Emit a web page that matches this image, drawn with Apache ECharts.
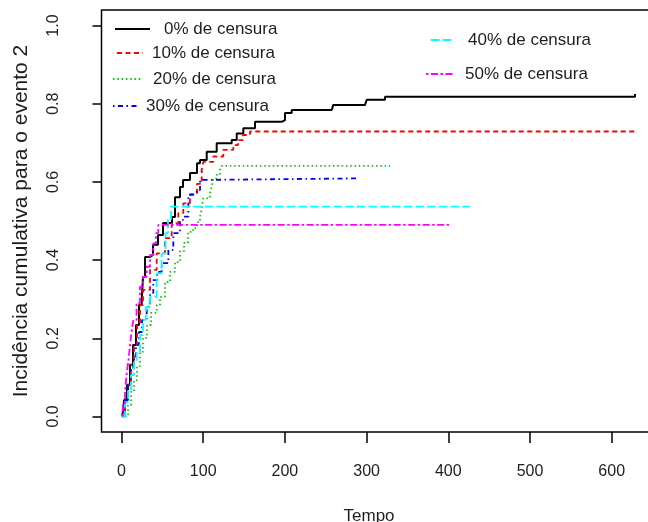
<!DOCTYPE html>
<html>
<head>
<meta charset="utf-8">
<script src="https://cdn.jsdelivr.net/npm/echarts@6/dist/echarts.min.js"></script>
<style>
  html, body { margin: 0; padding: 0; background: #fff; }
  #chart { width: 648px; height: 522px; }
</style>
</head>
<body>
<div id="chart"></div>
<script>
// Cumulative incidence estimates (step functions) for event 2, per censoring level
const seriesNames = ['0% de censura', '10% de censura', '20% de censura',
                     '30% de censura', '40% de censura', '50% de censura'];

const cif0 = [[1,0],[3.1,0.042],[6.7,0.081],[10.4,0.132],[14.1,0.183],[17.7,0.234],[21.4,0.285],
  [24.7,0.298],[26.3,0.357],[28.8,0.408],[34.9,0.413],[38.6,0.439],[44.7,0.464],[50.8,0.495],
  [61.8,0.510],[65.5,0.561],[71.6,0.587],[75.3,0.605],[83.8,0.623],[92.4,0.648],[96.1,0.656],
  [104.3,0.677],[116.5,0.699],[134.9,0.707],[141,0.724],[149.1,0.737],[163.4,0.754],[196.5,0.758],
  [200.1,0.776],[208.3,0.784],[257.3,0.788],[259.2,0.797],[298,0.801],[300.1,0.810],[322.5,0.818],
  [628.5,0.825]];

const cif10 = [[1,0],[4.3,0.042],[8.0,0.081],[11.6,0.132],[15.3,0.183],[19.0,0.234],[22.6,0.285],
  [26.3,0.324],[34.9,0.375],[43.1,0.417],[53.2,0.456],[61.4,0.494],[69.5,0.520],[75.6,0.545],
  [83.8,0.569],[92.4,0.595],[98.2,0.631],[100.1,0.651],[112.4,0.665],[124.6,0.682],[136.8,0.694],
  [142.6,0.707],[148.7,0.720],[157.3,0.729],[631,0.729]];

const cif20 = [[4.3,0],[8.0,0.029],[11.6,0.063],[15.3,0.093],[19.0,0.129],[22.6,0.165],[26.3,0.201],
  [31.2,0.234],[36.1,0.265],[43.1,0.285],[47.1,0.306],[53.2,0.344],[59.4,0.370],[65.5,0.395],
  [71.6,0.423],[76.5,0.444],[81.4,0.472],[87.5,0.482],[92.4,0.497],[96.1,0.511],[98.2,0.533],
  [100.1,0.558],[108.3,0.571],[110.4,0.588],[112.4,0.609],[116.5,0.618],[120.6,0.635],[122.6,0.641],
  [328.6,0.641]];

const cif30 = [[1,0],[4.3,0.042],[8.0,0.081],[11.6,0.119],[14.4,0.145],[17.7,0.183],[21.4,0.216],
  [25.1,0.247],[30.8,0.281],[34.9,0.316],[38.9,0.349],[43.5,0.370],[49.2,0.392],[57.3,0.426],
  [63.4,0.469],[71.6,0.503],[75.6,0.511],[81.8,0.567],[87.9,0.571],[92.0,0.579],[96.1,0.605],
  [98.2,0.609],[289.9,0.609]];

const cif40 = [[1,0],[4.3,0.037],[8.0,0.068],[11.6,0.106],[15.3,0.139],[18.6,0.162],[22.6,0.208],
  [26.3,0.247],[30.0,0.280],[34.9,0.306],[43.1,0.366],[49.2,0.417],[53.9,0.469],[56.9,0.503],
  [60.6,0.537],[426.6,0.537]];

const cif50 = [[1,0],[1.8,0.029],[4.3,0.063],[6.4,0.111],[8.6,0.145],[10.4,0.183],[12.2,0.214],
  [14.4,0.247],[18.4,0.290],[22.6,0.332],[26.3,0.357],[30.8,0.383],[34.9,0.413],[38.9,0.443],
  [42.2,0.469],[45.0,0.490],[400.9,0.490]];

const xTicks = [0, 100, 200, 300, 400, 500, 600];
const yTicks = [0, 0.2, 0.4, 0.6, 0.8, 1.0];

const xTitle = 'Tempo';
const yTitle = 'Incidência cumulativa para o evento 2';

// R-style line types: solid, dashed, dotted, dotdash, longdash, twodash
const lineLooks = [
  { color: '#000000', width: 2.0, type: 'solid' },
  { color: '#ff0000', width: 1.8, type: [5, 3.5] },
  { color: '#00cd00', width: 1.8, type: [1.5, 2.8] },
  { color: '#0000ff', width: 1.8, type: [1.5, 3.5, 5, 3.5] },
  { color: '#00ffff', width: 1.8, type: [8.5, 3.2] },
  { color: '#ff00ff', width: 1.8, type: [2.5, 2.5, 7, 2.5] }
];

// legend entries are placed one by one (two loose columns inside the plot box)
const legendSpots = [
  { left: 114, mid: 29,  w: 35, gap: 9 },
  { left: 116, mid: 53,  w: 26, gap: 4 },
  { left: 112, mid: 79,  w: 28, gap: 7 },
  { left: 112, mid: 106, w: 26, gap: 2 },
  { left: 430, mid: 40,  w: 22, gap: 10 },
  { left: 425, mid: 74,  w: 28, gap: 6 }
];

const curves = [cif0, cif10, cif20, cif30, cif40, cif50];
const textColor = '#1e1e1e';
const font = 'Liberation Sans, Arial, Helvetica, sans-serif';

const chart = echarts.init(document.getElementById('chart'), null, { renderer: 'canvas' });

const option = {
  animation: false,
  backgroundColor: '#ffffff',
  grid: {
    left: 101.5, top: 9.9, width: 562.1, height: 422.2,
    outerBoundsMode: 'none', containLabel: false,
    show: true, borderColor: '#000', borderWidth: 1.5, backgroundColor: 'transparent'
  },
  xAxis: {
    type: 'value', min: -24.5, max: 663.5,
    name: xTitle, nameLocation: 'middle', nameGap: 76,
    nameTextStyle: { fontSize: 17, color: textColor, fontFamily: font, padding: [0, 27, 0, 0] },
    axisLine: { show: false, onZero: false },
    splitLine: { show: false },
    axisTick: { show: true, customValues: xTicks, length: 11, lineStyle: { color: '#000', width: 1.5 } },
    axisLabel: { customValues: xTicks, margin: 31, fontSize: 16, color: textColor, fontFamily: font }
  },
  yAxis: {
    type: 'value', min: -0.04, max: 1.04,
    name: yTitle, nameLocation: 'middle', nameGap: 70, nameRotate: 90,
    nameTextStyle: { fontSize: 21, color: textColor, fontFamily: font },
    axisLine: { show: false, onZero: false },
    splitLine: { show: false },
    axisTick: { show: true, customValues: yTicks, length: 9, lineStyle: { color: '#000', width: 1.5 } },
    axisLabel: {
      customValues: yTicks, rotate: 90, margin: 40, fontSize: 16, color: textColor, fontFamily: font,
      formatter: v => v.toFixed(1)
    }
  },
  legend: seriesNames.map((name, i) => ({
    data: [name],
    left: legendSpots[i].left,
    top: legendSpots[i].mid - 10,
    padding: 0,
    itemWidth: legendSpots[i].w,
    itemHeight: 20,
    selectedMode: false,
    itemStyle: { opacity: 0 },
    textStyle: {
      fontSize: 17, color: textColor, fontFamily: font, lineHeight: 20,
      padding: [0, 0, 0, legendSpots[i].gap]
    }
  })),
  series: seriesNames.map((name, i) => ({
    name,
    type: 'line',
    step: 'end',
    symbol: 'none',
    data: curves[i],
    lineStyle: lineLooks[i],
    itemStyle: { color: lineLooks[i].color }
  }))
};

chart.setOption(option);
</script>
</body>
</html>
